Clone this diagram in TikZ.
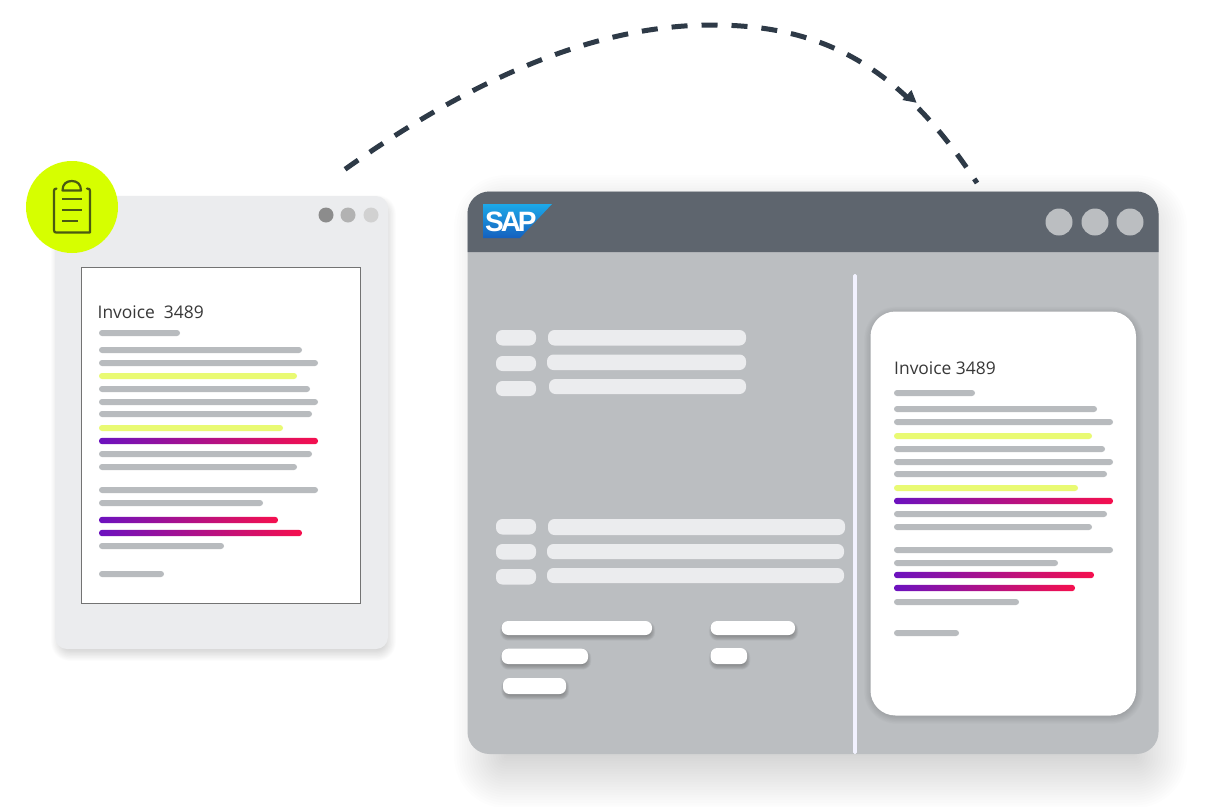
\documentclass[tikz,border=0pt]{standalone}
\usepackage{fontspec}
\setmainfont{Open Sans}
\newfontfamily\sapfont[LetterSpace=-11]{Liberation Sans}
\usetikzlibrary{arrows.meta}
\definecolor{ink}{HTML}{2E3A47}
\definecolor{lightwin}{HTML}{EBECEE}
\definecolor{barg}{HTML}{B8BBBE}
\definecolor{bary}{HTML}{E9FA73}
\definecolor{header}{HTML}{5E656E}
\definecolor{body}{HTML}{BBBEC1}
\definecolor{lime}{HTML}{D6FF00}
\definecolor{iconc}{HTML}{4A5A12}
\definecolor{gpurple}{HTML}{6C12BF}
\definecolor{gred}{HTML}{F5104E}
\definecolor{sapa}{HTML}{1CA9E9}
\definecolor{sapb}{HTML}{1560BE}
\tikzset{
  pilllight/.style={fill=lightwin},
  invoice/.style={anchor=west,inner sep=0pt,text=black!78,font=\fontsize{17.4}{19}\selectfont},
}
% x1 y1 x2 y2 radius spread opacity-per-step
\newcommand\softshadow[7]{%
  \foreach \i in {0,...,23}{%
    \pgfmathsetmacro\g{#6*(1-\i/11.5)}%
    \pgfmathsetmacro\rr{max(#5+\g,0.5)}%
    \fill[black,opacity=#7,rounded corners=\rr pt] (#1-\g,#2-\g) rectangle (#3+\g,#4+\g);
  }%
}
\newcommand\gbar[3]{\fill[barg,rounded corners=3pt] (#1,#3-3) rectangle (#2,#3+3);}
\newcommand\ybar[3]{\fill[bary,rounded corners=3pt] (#1,#3-3) rectangle (#2,#3+3);}
\newcommand\cbar[3]{\shade[left color=gpurple,right color=gred,rounded corners=3pt] (#1,#3-3.2) rectangle (#2,#3+3.2);}
\newcommand\pill[5]{\fill[#5,rounded corners=6.5pt] (#1,#2) rectangle (#3,#4);}
\newcommand\wpill[4]{%
  \softshadow{#1+1}{#2+3}{#3+0.5}{#4+3}{6}{3}{0.012}%
  \fill[white,rounded corners=6.5pt] (#1,#2) rectangle (#3,#4);}
\begin{document}
\begin{tikzpicture}[x=1pt,y=-1pt]
\useasboundingbox (0,0) rectangle (1212,806);
\fill[white] (0,0) rectangle (1212,806);

% left window
\softshadow{58}{202}{389}{654}{12}{7}{0.007}
\fill[lightwin,rounded corners=12pt] (55,196) rectangle (388,649);
\fill[black!45] (326,215) circle (7.5);
\fill[black!30] (348,215) circle (7.5);
\fill[black!18] (371,215) circle (7.5);
\draw[black!55,fill=white,line width=0.9pt] (81.5,267.5) rectangle (360.5,603.5);

% badge
\fill[lime] (72,207) circle (46);
\draw[iconc,line width=2.2pt,line cap=round,line join=round]
  (56.5,188.5) .. controls (54.5,188.5) and (54,189.5) .. (54,191) -- (54,230) .. controls (54,232) and (55,232.5) .. (56,232.5) -- (90,232.5) -- (90,191) .. controls (90,189.5) and (89.5,188.5) .. (87,188.5);
\draw[iconc,line width=2.2pt,line join=round]
  (62.5,190.5) -- (81,190.5) .. controls (81,184) and (77,181) .. (71.8,181) .. controls (66.5,181) and (62.5,184) .. (62.5,190.5) -- cycle;
\draw[iconc,line width=2.2pt] (62,199) -- (82,199) (62,210) -- (82,210) (62,221) -- (78,221);

\node[invoice] (invleft) at (97.5,312) {Invoice\ \ 3489};
\gbar{99}{180}{333}
\gbar{99}{302}{350}
\gbar{99}{318}{363}
\ybar{99}{297}{376}
\gbar{99}{310}{389}
\gbar{99}{318}{402}
\gbar{99}{312}{414}
\ybar{99}{283}{428}
\cbar{99}{318}{441}
\gbar{99}{312}{454}
\gbar{99}{297}{467}
\gbar{99}{318}{490}
\gbar{99}{263}{503}
\cbar{99}{278}{520}
\cbar{99}{302}{533}
\gbar{99}{224}{546}
\gbar{99}{164}{574}

% SAP window
\softshadow{484}{205}{1157}{778}{22}{30}{0.0068}
\fill[body,rounded corners=22pt] (467.5,191.5) rectangle (1158.5,754);
\fill[header] (467.5,252) [rounded corners=22pt] -- (467.5,191.5) -- (1158.5,191.5) [sharp corners] -- (1158.5,252) -- cycle;
\fill[body] (1059,222) circle (13.5) (1095,222) circle (13.5) (1130,222) circle (13.5);

% SAP logo
\shade[top color=sapa,bottom color=sapb] (483,204) -- (552,204) -- (520,238) -- (483,238) -- cycle;
\node[inner sep=0pt,anchor=west,text=white] (saplogo) at (485,222) {\sapfont\bfseries\fontsize{28}{28}\selectfont SAP};

% divider
\fill[white!95!blue,rounded corners=1.5pt] (853.2,274) rectangle (856.8,754);

% left pills
\pill{496}{330}{536}{345.5}{pilllight}
\pill{496}{356}{536}{371}{pilllight}
\pill{496}{381}{536}{396}{pilllight}
\pill{548}{330}{746}{345.5}{pilllight}
\pill{547}{354.5}{746}{370}{pilllight}
\pill{549}{379}{746}{394}{pilllight}
\pill{496}{519}{536}{534.5}{pilllight}
\pill{496}{544}{536}{559.5}{pilllight}
\pill{496}{569}{536}{584.5}{pilllight}
\pill{548}{519}{845}{535}{pilllight}
\pill{547}{544}{844}{559}{pilllight}
\pill{547}{568}{844}{583}{pilllight}

% white pills
\wpill{501.7}{621}{652}{635}
\wpill{501.7}{648.7}{588}{664}
\wpill{503}{678}{566}{694}
\wpill{710.7}{621}{795}{635}
\wpill{710.7}{648}{747}{664}

% card
\softshadow{871}{313.5}{1136.5}{717}{25}{7}{0.0075}
\fill[white,rounded corners=25pt] (870.5,311.5) rectangle (1136,715.5);
\node[invoice] (invright) at (894,368) {Invoice 3489};
\gbar{894}{975}{393}
\gbar{894}{1097}{409}
\gbar{894}{1113}{422}
\ybar{894}{1092}{436}
\gbar{894}{1105}{449}
\gbar{894}{1113}{462}
\gbar{894}{1107}{474}
\ybar{894}{1078}{488}
\cbar{894}{1113}{501}
\gbar{894}{1107}{514}
\gbar{894}{1092}{527}
\gbar{894}{1113}{550}
\gbar{894}{1058}{563}
\cbar{894}{1094}{575}
\cbar{894}{1075}{588}
\gbar{894}{1019}{602}
\gbar{894}{959}{633}

% connector
\coordinate (from) at (344,170);
\coordinate (top) at (712,25);
\coordinate (to) at (977,183);
\draw[ink,line width=5pt,dash pattern=on 16pt off 14pt,dash phase=28.7pt]
  (from) .. controls (464,84.8) and (589,25) .. (top)
         .. controls (822,25) and (900,65) .. (to);
\coordinate (tipa) at (916.5,102.7);
\coordinate (tipb) at (911.5,90);
\coordinate (tipc) at (902.3,100);
\fill[ink] (tipa) -- (tipb) -- (tipc) -- cycle;
\end{tikzpicture}
\end{document}
